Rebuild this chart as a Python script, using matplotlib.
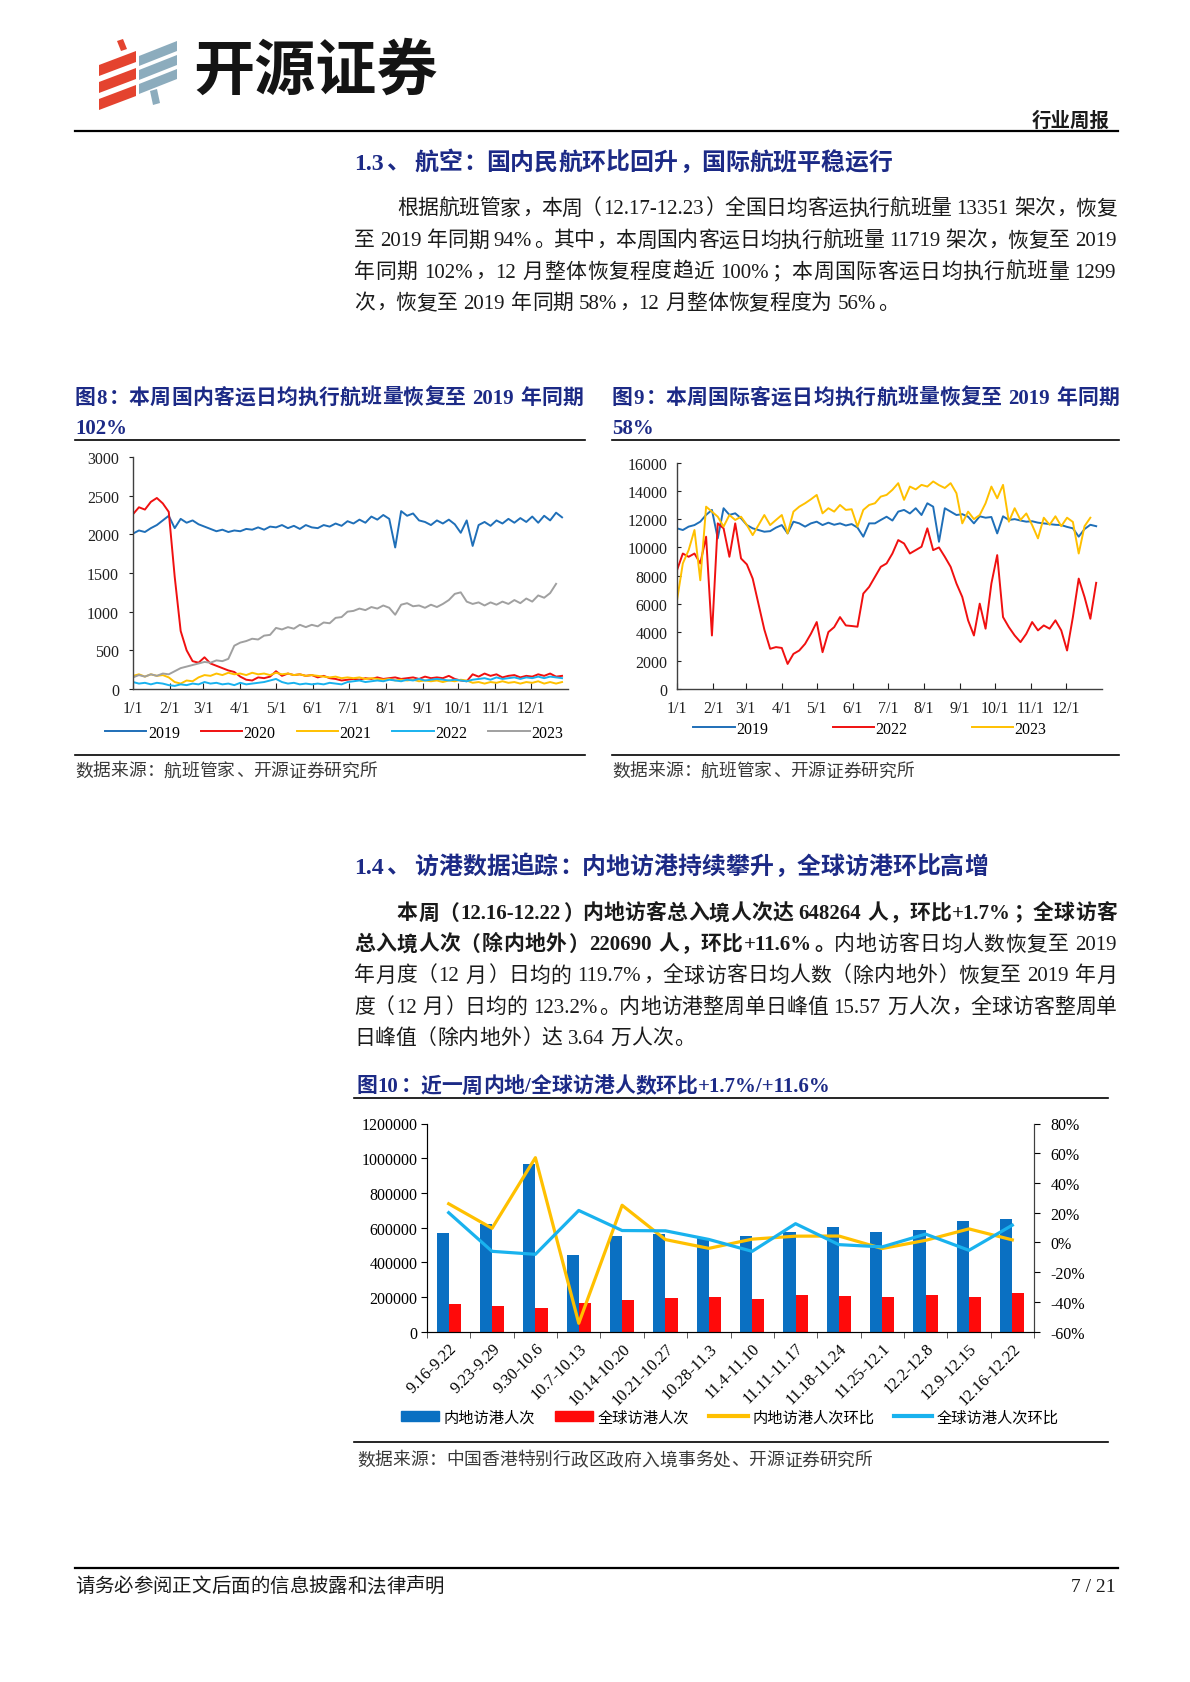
import numpy as np
import matplotlib
matplotlib.use('Agg')
import matplotlib.pyplot as plt
from matplotlib.patches import Polygon, Patch
from matplotlib.lines import Line2D

W, H = 1190, 1683
FAM = ['Liberation Serif', 'Noto Sans CJK SC']
plt.rcParams['font.family'] = FAM
NAVY = '#1c2a86'
TEXT = '#1a1a1a'
GREY_TXT = '#3a3a3a'

# ---- chart 8: domestic daily flights (every 5 days from 1/1)
month_days = [0, 31, 59, 90, 120, 151, 181, 212, 243, 273, 304, 334]
month_labels = ['1/1', '2/1', '3/1', '4/1', '5/1', '6/1', '7/1', '8/1', '9/1', '10/1', '11/1', '12/1']
step_days = np.arange(0, 365, 5)

dom_2019 = [2010, 2050, 2030, 2080, 2120, 2180, 2240, 2080, 2200, 2150,
            2180, 2130, 2100, 2070, 2040, 2060, 2030, 2050, 2040, 2070,
            2060, 2090, 2060, 2100, 2090, 2120, 2080, 2110, 2070, 2120,
            2090, 2080, 2120, 2100, 2140, 2110, 2170, 2140, 2190, 2150,
            2230, 2190, 2250, 2200, 1830, 2300, 2240, 2270, 2180, 2160,
            2120, 2180, 2140, 2190, 2130, 2020, 2180, 1850, 2120, 2160,
            2110, 2180, 2140, 2200, 2150, 2210, 2160, 2230, 2150, 2240,
            2180, 2280, 2220]
dom_2020 = [2260, 2350, 2320, 2420, 2470, 2400, 2290, 1450, 750, 500,
            360, 340, 410, 330, 300, 270, 240, 220, 160, 120,
            110, 150, 140, 160, 230, 170, 200, 180, 190, 170,
            180, 150, 170, 140, 130, 110, 120, 130, 120, 140,
            130, 150, 130, 140, 150, 130, 140, 150, 130, 160,
            140, 150, 140, 170, 130, 110, 100, 190, 160, 200,
            170, 190, 150, 170, 180, 150, 170, 160, 190, 170,
            200, 160, 170]
dom_2021 = [170, 190, 160, 190, 170, 180, 150, 90, 70, 110,
            100, 150, 180, 170, 200, 180, 210, 190, 200, 180,
            210, 190, 200, 180, 210, 190, 200, 180, 190, 170,
            180, 170, 160, 150, 160, 140, 150, 140, 150, 130,
            140, 130, 120, 130, 110, 120, 110, 120, 100, 110,
            100, 110, 90, 110, 100, 120, 110, 80, 90, 70,
            90, 80, 100, 80, 90, 70, 90, 80, 100, 70,
            90, 70, 90]
dom_2022 = [90, 70, 80, 60, 80, 70, 50, 40, 60, 50,
            70, 60, 90, 70, 80, 60, 70, 50, 80, 60,
            70, 80, 90, 110, 130, 90, 70, 80, 60, 70,
            60, 70, 60, 80, 70, 60, 90, 100, 110, 90,
            100, 110, 100, 120, 110, 100, 120, 110, 130, 110,
            120, 130, 120, 110, 120, 110, 100, 120, 130, 140,
            120, 150, 130, 140, 150, 130, 150, 140, 160, 140,
            160, 150, 140]
dom_2023 = [150, 180, 160, 190, 170, 200, 190, 230, 270, 290,
            310, 330, 350, 340, 370, 360, 390, 560, 600, 620,
            650, 640, 690, 700, 790, 770, 800, 780, 830, 800,
            830, 810, 860, 850, 920, 930, 1000, 1010, 1040, 1020,
            1060, 1040, 1080, 1050, 960, 1090, 1110, 1070, 1080, 1050,
            1090, 1060, 1100, 1150, 1230, 1250, 1130, 1100, 1120, 1080,
            1120, 1090, 1130, 1100, 1150, 1110, 1170, 1130, 1210, 1180,
            1240, 1360]

# ---- chart 9: international daily flights
intl_2019 = [11350, 11230, 11470, 11580, 11820, 12300, 12650, 10640, 12770, 12300,
             12410, 12060, 11580, 11350, 11230, 11110, 11150, 11400, 11580, 10990,
             11820, 11700, 11470, 11700, 11820, 11580, 11750, 11600, 11700, 11550,
             11650, 11400, 10760, 11700, 11700, 11940, 12170, 11900, 12530, 12650,
             12400, 12770, 12290, 13120, 12880, 10400, 12770, 12530, 12290, 12350,
             12170, 11700, 12200, 12100, 12150, 10990, 12200, 11940, 12000, 11900,
             11820, 11850, 11750, 11700, 11650, 11600, 11580, 11450, 11350, 10760,
             11300, 11600, 11500]
intl_2022 = [8390, 9570, 9340, 9570, 8870, 10760, 3780, 11700, 11350, 9340,
             11700, 9220, 8800, 7800, 6000, 4200, 2840, 2960, 2900, 1770,
             2480, 2720, 3190, 3900, 4730, 2600, 4020, 4370, 5080, 4490,
             4450, 4400, 6740, 7210, 7920, 8630, 8870, 9570, 10520, 10280,
             9570, 9810, 10050, 11350, 9810, 10000, 9340, 8630, 7450, 6500,
             4850, 3780, 6030, 4260, 7450, 9460, 5080, 4370, 3780, 3310,
             3900, 4730, 4140, 4490, 4260, 4850, 4140, 2720, 5080, 7800,
             6500, 4960, 7500]
intl_2023 = [6260, 8870, 9810, 11230, 7680, 12880, 12530, 12170, 11470, 12290,
             11940, 12170, 11580, 10870, 11580, 12290, 11580, 11940, 12290, 10990,
             12530, 12880, 13120, 13400, 13710, 12410, 12770, 12530, 13000, 12650,
             12700, 11470, 12650, 13000, 13120, 13590, 13710, 14070, 14540, 13360,
             14300, 14100, 14420, 14300, 14660, 14400, 14200, 14540, 13830, 11700,
             12530, 12000, 12290, 13120, 14300, 13470, 14420, 11820, 12770, 11940,
             12400, 11580, 10640, 12100, 11600, 12200, 11500, 12100, 11800, 9570,
             11500, 12100]

# ---- chart 10: weekly visitors to Hong Kong
weeks = ['9.16-9.22', '9.23-9.29', '9.30-10.6', '10.7-10.13', '10.14-10.20', '10.21-10.27',
         '10.28-11.3', '11.4-11.10', '11.11-11.17', '11.18-11.24', '11.25-12.1', '12.2-12.8',
         '12.9-12.15', '12.16-12.22']
mainland_visits = [566000, 618000, 968000, 441000, 553000, 563000, 541000,
                   553000, 576000, 601000, 576000, 584000, 637000, 648264]
global_visits = [159000, 150000, 138000, 167000, 180000, 194000, 198000,
                 186000, 209000, 205000, 198000, 209000, 198000, 220690]
mainland_mom = [26, 9.5, 57, -54.4, 25, 1.9, -4, 2.2, 4.2, 4.3, -4.1, 1.4, 9.1, 1.7]
global_mom = [20, -6, -8, 21.5, 8, 7.8, 2, -6, 12.6, -1.5, -3, 5.6, -5.3, 11.6]

C_BLUE, C_RED, C_YEL, C_CYAN, C_GREY = '#1f6fb8', '#f01010', '#ffc000', '#19b2ee', '#a0a0a0'

fig = plt.figure(figsize=(W / 100, H / 100), dpi=100)
renderer = fig.canvas.get_renderer()


def fx(x):
    return x / W


def fy(y):
    return 1 - y / H


def rect(l, t, r, b):
    return [fx(l), fy(b), (r - l) / W, (b - t) / H]


def put(x, y, s, size, weight='normal', color=TEXT, ha='left', va='baseline'):
    return fig.text(fx(x), fy(y), s, fontsize=size, fontweight=weight, color=color,
                    ha=ha, va=va, family=FAM)


def hrule(y, x0, x1, lw=1.0, color='black'):
    fig.add_artist(Line2D([fx(x0), fx(x1)], [fy(y), fy(y)], lw=lw, color=color))


def is_wide(ch):
    return ord(ch) >= 0x2E80


def text_line(segments, x0, yc, size, x1=None, color=TEXT):
    """draw one line of mixed CJK / latin text, optionally justified to x1"""
    em = size * 100 / 72
    units = []
    for s, w in segments:
        buf = ''
        for ch in s:
            if is_wide(ch) or ch == ' ':
                if buf:
                    units.append((buf, w, 'latin'))
                    buf = ''
                units.append((ch, w, 'wide' if ch != ' ' else 'space'))
            else:
                buf += ch
        if buf:
            units.append((buf, w, 'latin'))
    widths = []
    for s, w, kind in units:
        if kind == 'wide':
            widths.append(em)
        elif kind == 'space':
            widths.append(em * 0.25)
        else:
            t = fig.text(0, 0, s, fontsize=size, fontweight=w, family=FAM)
            widths.append(t.get_window_extent(renderer).width + em * 0.04)
            t.remove()
    extra = 0
    if x1 is not None and len(units) > 1:
        extra = (x1 - x0 - sum(widths)) / (len(units) - 1)
    base = yc + 0.36 * em
    x = x0
    for (s, w, kind), wd in zip(units, widths):
        if kind == 'wide':
            if s in '，。、：；）':
                put(x + 0.06 * em, base, s, size, w, color)
            elif s == '（':
                put(x + wd - 0.06 * em, base, s, size, w, color, ha='right')
            else:
                put(x + wd / 2, base, s, size, w, color, ha='center')
        elif kind == 'latin':
            put(x, base, s, size, w, color)
        x += wd + extra


# ---------------- header / logo
def poly(pts, color):
    fig.add_artist(Polygon([(fx(a), fy(b)) for a, b in pts], closed=True,
                           transform=fig.transFigure, color=color, lw=0))


RED_LOGO, GREY_LOGO = '#e4432f', '#8cacbd'
for top in (58, 75, 92):
    poly([(99, top + 8), (136, top - 6), (136, top + 5), (99, top + 19)], RED_LOGO)
poly([(117, 42), (123, 40), (127, 50), (121, 52)], RED_LOGO)
for top in (48, 62, 76):
    poly([(139, top + 9), (177, top - 6), (177, top + 4), (139, top + 19)], GREY_LOGO)
poly([(150, 92), (157, 90), (160, 104), (153, 106)], GREY_LOGO)
fig.text(fx(193), fy(72), '开源证券', fontsize=44, fontweight='heavy', color='#141414',
         ha='left', va='center', family=['Noto Sans CJK SC'])

put(1110, 121, '行业周报', 14, 'bold', ha='right', va='center')
hrule(132, 75, 1118, lw=1.6)

BODY = 15

# ---------------- section 1.3
text_line([('1.3、 航空：国内民航环比回升，国际航班平稳运行', 'bold')], 354, 161, 17.2, color=NAVY)
p1 = ['根据航班管家，本周（12.17-12.23）全国日均客运执行航班量 13351 架次，恢复',
      '至 2019 年同期 94%。其中，本周国内客运日均执行航班量 11719 架次，恢复至 2019',
      '年同期 102%，12 月整体恢复程度趋近 100%；本周国际客运日均执行航班量 1299',
      '次，恢复至 2019 年同期 58%，12 月整体恢复程度为 56%。']
p1_y = [207, 239, 270, 301.5]
for i, (s, y) in enumerate(zip(p1, p1_y)):
    text_line([(s, 'normal')], 397 if i == 0 else 354, y, BODY,
              x1=1117 if i < len(p1) - 1 else None)

# ---------------- chart titles 8 / 9
text_line([('图8：本周国内客运日均执行航班量恢复至 2019 年同期', 'bold')], 75, 396, 15, x1=583, color=NAVY)
text_line([('102%', 'bold')], 75, 427, 15, color=NAVY)
text_line([('图9：本周国际客运日均执行航班量恢复至 2019 年同期', 'bold')], 612, 396, 15, x1=1119, color=NAVY)
text_line([('58%', 'bold')], 612, 427, 15, color=NAVY)
hrule(441, 75, 585, lw=1.2)
hrule(441, 612, 1119, lw=1.2)
hrule(756, 75, 585, lw=1.2)
hrule(756, 612, 1119, lw=1.2)
text_line([('数据来源：航班管家、开源证券研究所', 'normal')], 75, 770, 12.8, color=GREY_TXT)
text_line([('数据来源：航班管家、开源证券研究所', 'normal')], 612, 770, 12.8, color=GREY_TXT)


def style_time_axis(ax, ydir):
    for sp in ('top', 'right'):
        ax.spines[sp].set_visible(False)
    for sp in ('left', 'bottom'):
        ax.spines[sp].set_color('#404040')
        ax.spines[sp].set_linewidth(1.0)
    ax.set_xlim(0, 365)
    ax.set_xticks(month_days)
    ax.set_xticklabels(month_labels)
    ax.tick_params(axis='x', direction='in', length=4, pad=8, labelsize=11.5, colors='#202020')
    ax.tick_params(axis='y', direction=ydir, length=3, pad=7, labelsize=11.5, colors='#202020')


ax8 = fig.add_axes(rect(133, 458, 568, 690))
for vals, color, label in [(dom_2019, C_BLUE, '2019'), (dom_2020, C_RED, '2020'),
                           (dom_2021, C_YEL, '2021'), (dom_2022, C_CYAN, '2022'),
                           (dom_2023, C_GREY, '2023')]:
    ax8.plot(step_days[:len(vals)], vals, color=color, lw=1.4, label=label)
ax8.set_ylim(0, 3000)
ax8.set_yticks(range(0, 3001, 500))
style_time_axis(ax8, 'out')
ax8.legend(loc='center', bbox_to_anchor=(fx(334), fy(734)), bbox_transform=fig.transFigure,
           ncol=5, frameon=False, handlelength=2.6, columnspacing=1.3, handletextpad=0.1,
           fontsize=11.5, borderaxespad=0)

ax9 = fig.add_axes(rect(677, 463.5, 1102, 690))
for vals, color, label in [(intl_2019, C_BLUE, '2019'), (intl_2022, C_RED, '2022'),
                           (intl_2023, C_YEL, '2023')]:
    ax9.plot(step_days[:len(vals)], vals, color=color, lw=1.4, label=label)
ax9.set_ylim(0, 16000)
ax9.set_yticks(range(0, 16001, 2000))
style_time_axis(ax9, 'in')
ax9.legend(loc='center', bbox_to_anchor=(fx(870), fy(730)), bbox_transform=fig.transFigure,
           ncol=3, frameon=False, handlelength=2.6, columnspacing=4.0, handletextpad=0.1,
           fontsize=11.5, borderaxespad=0)

# ---------------- section 1.4
text_line([('1.4、 访港数据追踪：内地访港持续攀升，全球访港环比高增', 'bold')], 354, 865, 17.2, color=NAVY)
p2 = [[('本周（12.16-12.22）内地访客总入境人次达 648264 人，环比+1.7%；全球访客', 'bold')],
      [('总入境人次（除内地外）220690 人，环比+11.6%。', 'bold'), ('内地访客日均人数恢复至 2019', 'normal')],
      [('年月度（12 月）日均的 119.7%，全球访客日均人数（除内地外）恢复至 2019 年月', 'normal')],
      [('度（12 月）日均的 123.2%。内地访港整周单日峰值 15.57 万人次，全球访客整周单', 'normal')],
      [('日峰值（除内地外）达 3.64 万人次。', 'normal')]]
p2_y = [912, 943, 974, 1005.5, 1036.5]
for i, (segs, y) in enumerate(zip(p2, p2_y)):
    text_line(segs, 397 if i == 0 else 354, y, BODY, x1=1117 if i < len(p2) - 1 else None)

# ---------------- chart 10
text_line([('图10：近一周内地/全球访港人数环比+1.7%/+11.6%', 'bold')], 357, 1085, 15, color=NAVY)
hrule(1099, 354, 1108, lw=1.2)
hrule(1443, 354, 1108, lw=1.2)
text_line([('数据来源：中国香港特别行政区政府入境事务处、开源证券研究所', 'normal')], 357, 1459, 12.8,
          color=GREY_TXT)

ax10 = fig.add_axes(rect(427, 1124.5, 1034, 1332.6))
xpos = np.arange(len(weeks))
ax10.bar(xpos - 0.14, mainland_visits, width=0.28, color='#0a70c2', zorder=2)
ax10.bar(xpos + 0.14, global_visits, width=0.28, color='#ff0a0a', zorder=2)
ax10.set_xlim(-0.5, len(weeks) - 0.5)
ax10.set_ylim(0, 1200000)
ax10.set_yticks(range(0, 1200001, 200000))
ax10.set_yticklabels([str(v) for v in range(0, 1200001, 200000)])
ax10.set_xticks(xpos)
ax10.set_xticklabels(weeks, rotation=45, ha='right', va='top', rotation_mode='anchor')
ax10.set_xticks(np.arange(-0.5, len(weeks), 1.0), minor=True)
ax10.tick_params(axis='x', which='major', length=0, pad=6, labelsize=11.8)
ax10.tick_params(axis='x', which='minor', length=4, direction='out', color='#404040')
ax10.tick_params(axis='y', length=4, pad=3, labelsize=11.5)
ax10.spines['top'].set_visible(False)
for sp in ('left', 'bottom', 'right'):
    ax10.spines[sp].set_color('#404040')

ax10r = ax10.twinx()
ax10r.plot(xpos, mainland_mom, color=C_YEL, lw=2.3, zorder=3)
ax10r.plot(xpos, global_mom, color=C_CYAN, lw=2.3, zorder=4)
ax10r.set_ylim(-60, 80)
ax10r.set_yticks(range(-60, 81, 20))
ax10r.set_yticklabels([f'{v}%' for v in range(-60, 81, 20)])
ax10r.tick_params(axis='y', length=4, pad=8, labelsize=11.5)
ax10r.spines['top'].set_visible(False)
ax10r.spines['right'].set_color('#404040')

handles = [Patch(color='#0a70c2'), Patch(color='#ff0a0a'),
           Line2D([], [], color=C_YEL, lw=3), Line2D([], [], color=C_CYAN, lw=3)]
ax10.legend(handles, ['内地访港人次', '全球访港人次', '内地访港人次环比', '全球访港人次环比'],
            loc='center', bbox_to_anchor=(fx(730), fy(1418)), bbox_transform=fig.transFigure,
            ncol=4, frameon=False, handlelength=2.5, handleheight=0.6, columnspacing=1.3,
            handletextpad=0.3, borderaxespad=0, prop={'family': FAM, 'size': 11})

# ---------------- footer
hrule(1569, 75, 1118, lw=1.6)
text_line([('请务必参阅正文后面的信息披露和法律声明', 'normal')], 75, 1585, 14)
put(1116, 1585 + 0.36 * 14 * 100 / 72, '7 / 21', 14, ha='right')

fig.savefig('out.png', dpi=100)
